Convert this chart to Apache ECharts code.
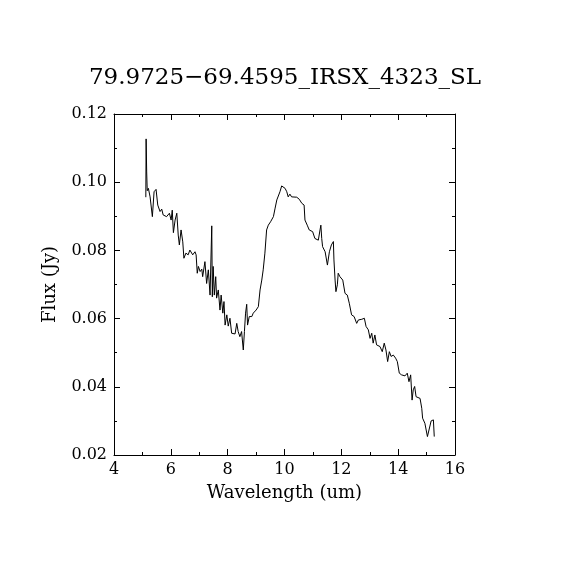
<!DOCTYPE html>
<html>
<head>
<meta charset="utf-8">
<script src="https://cdn.jsdelivr.net/npm/echarts@6/dist/echarts.min.js"></script>
<style>
html,body{margin:0;padding:0;background:#fff;}
#chart{width:570px;height:570px;}
</style>
</head>
<body>
<div id="chart"></div>
<script>
const titleText = "79.9725\u221269.4595_IRSX_4323_SL";
const xName = "Wavelength (um)";
const yName = "Flux (Jy)";

const wavelength = [
  5.12, 5.13, 5.15, 5.17, 5.21, 5.27, 5.35, 5.41, 5.48, 5.54, 5.62, 5.68, 5.73, 5.85, 5.95,
  6.01, 6.05, 6.09, 6.15, 6.21, 6.26, 6.30, 6.36, 6.42, 6.46, 6.53, 6.61, 6.67, 6.77, 6.85,
  6.89, 6.93, 6.97, 7.03, 7.09, 7.12, 7.20, 7.26, 7.32, 7.38, 7.44, 7.46, 7.49, 7.53, 7.58,
  7.61, 7.67, 7.73, 7.77, 7.83, 7.87, 7.91, 7.97, 8.02, 8.08, 8.14, 8.20, 8.26, 8.32, 8.37,
  8.43, 8.49, 8.55, 8.59, 8.63, 8.67, 8.70, 8.76, 8.85, 8.90, 9.00, 9.08,
  9.14, 9.20, 9.25, 9.31, 9.37, 9.43, 9.51, 9.61, 9.67, 9.73, 9.78, 9.84, 9.90, 9.96,
  10.02, 10.08, 10.13, 10.19, 10.25, 10.31, 10.43, 10.52, 10.61, 10.69, 10.72, 10.80, 10.87, 10.99,
  11.07, 11.13, 11.19, 11.25, 11.28, 11.31, 11.34, 11.43, 11.51, 11.58, 11.65, 11.72, 11.74, 11.78,
  11.81, 11.86, 11.89, 11.95, 12.05, 12.13, 12.21, 12.28, 12.36, 12.45, 12.54, 12.60, 12.72, 12.81,
  12.87, 12.95, 13.01, 13.07, 13.12, 13.18, 13.24, 13.30, 13.36, 13.44, 13.51, 13.57, 13.63, 13.69,
  13.75, 13.83, 13.91, 13.97, 14.04, 14.12, 14.24, 14.32, 14.38, 14.44, 14.49, 14.53, 14.58, 14.63,
  14.69, 14.77, 14.83, 14.86, 14.94, 15.03, 15.10, 15.16, 15.24, 15.27
];

const flux = [
  0.0956, 0.1127, 0.1030, 0.0975, 0.0982, 0.0957, 0.0899, 0.0972, 0.0979, 0.0933, 0.0914, 0.0921, 0.0904, 0.0899, 0.0909,
  0.0889, 0.0918, 0.0852, 0.0889, 0.0909, 0.0845, 0.0816, 0.0860, 0.0825, 0.0777, 0.0792, 0.0787, 0.0801, 0.0787, 0.0796,
  0.0787, 0.0733, 0.0753, 0.0738, 0.0745, 0.0723, 0.0767, 0.0703, 0.0743, 0.0669, 0.0872, 0.0664, 0.0753, 0.0669, 0.0723,
  0.0660, 0.0684, 0.0625, 0.0669, 0.0616, 0.0650, 0.0581, 0.0611, 0.0578, 0.0601, 0.0557, 0.0562, 0.0555, 0.0586, 0.0562,
  0.0547, 0.0562, 0.0508, 0.0562, 0.0616, 0.0642, 0.0581, 0.0606, 0.0606, 0.0616, 0.0625, 0.0635,
  0.0684, 0.0713, 0.0743, 0.0792, 0.0860, 0.0874, 0.0884, 0.0899, 0.0924, 0.0948, 0.0953, 0.0972, 0.0989, 0.0989,
  0.0982, 0.0972, 0.0957, 0.0965, 0.0957, 0.0960, 0.0956, 0.0950, 0.0938, 0.0933, 0.0889, 0.0874, 0.0860, 0.0855,
  0.0835, 0.0840, 0.0830, 0.0860, 0.0874, 0.0835, 0.0811, 0.0796, 0.0757, 0.0796, 0.0816, 0.0826, 0.0772, 0.0713,
  0.0679, 0.0699, 0.0733, 0.0723, 0.0713, 0.0674, 0.0669, 0.0645, 0.0611, 0.0606, 0.0586, 0.0596, 0.0598, 0.0601,
  0.0577, 0.0567, 0.0542, 0.0557, 0.0528, 0.0552, 0.0523, 0.0528, 0.0518, 0.0503, 0.0528, 0.0508, 0.0474, 0.0503,
  0.0489, 0.0493, 0.0484, 0.0474, 0.0440, 0.0435, 0.0432, 0.0440, 0.0415, 0.0435, 0.0361, 0.0391, 0.0401, 0.0371,
  0.0376, 0.0366, 0.0337, 0.0308, 0.0293, 0.0254, 0.0256, 0.0300, 0.0303, 0.0254
];

const xMin = 4, xMax = 16, xStep = 2;
const yMin = 0.02, yMax = 0.12, yStep = 0.02;

const chart = echarts.init(document.getElementById('chart'), null, {renderer: 'canvas'});
const serif = "DejaVu Serif";
const lineCol = '#000';

function xAx(pos, labels) {
  return {
    type: 'value', position: pos, min: xMin, max: xMax, interval: xStep,
    name: labels ? xName : '', nameLocation: 'middle', nameGap: 29,
    nameTextStyle: {fontFamily: serif, fontSize: 18, color: '#000'},
    axisLine: {show: true, onZero: false, lineStyle: {color: lineCol, width: 1}},
    axisTick: {show: true, inside: true, length: 6, lineStyle: {color: lineCol}},
    minorTick: {show: true, splitNumber: 2, length: 3, lineStyle: {color: lineCol}},
    axisLabel: {show: labels, margin: 7, fontFamily: serif, fontSize: 16, color: '#000'},
    splitLine: {show: false}
  };
}
function yAx(pos, labels) {
  return {
    type: 'value', position: pos, min: yMin, max: yMax, interval: yStep,
    name: labels ? yName : '', nameLocation: 'middle', nameGap: 55,
    nameTextStyle: {fontFamily: serif, fontSize: 18, color: '#000'},
    axisLine: {show: true, onZero: false, lineStyle: {color: lineCol, width: 1}},
    axisTick: {show: true, inside: true, length: 6, lineStyle: {color: lineCol}},
    minorTick: {show: true, splitNumber: 2, length: 3, lineStyle: {color: lineCol}},
    axisLabel: {show: labels, margin: 7, fontFamily: serif, fontSize: 16, color: '#000',
      formatter: v => v.toFixed(2)},
    splitLine: {show: false}
  };
}

chart.setOption({
  animation: false,
  backgroundColor: '#fff',
  title: {
    text: titleText, left: 'center', top: 67, padding: 0,
    textStyle: {fontFamily: serif, fontSize: 23, fontWeight: 'normal', color: '#000'}
  },
  grid: {left: 114, right: 115, top: 114, bottom: 115},
  xAxis: [xAx('bottom', true), xAx('top', false)],
  yAxis: [yAx('left', true), yAx('right', false)],
  series: [{
    type: 'line', xAxisIndex: 0, yAxisIndex: 0,
    data: wavelength.map((w, i) => [w, flux[i]]),
    showSymbol: false, symbol: 'none',
    lineStyle: {color: '#000', width: 1},
    silent: true
  }]
});
</script>
</body>
</html>
